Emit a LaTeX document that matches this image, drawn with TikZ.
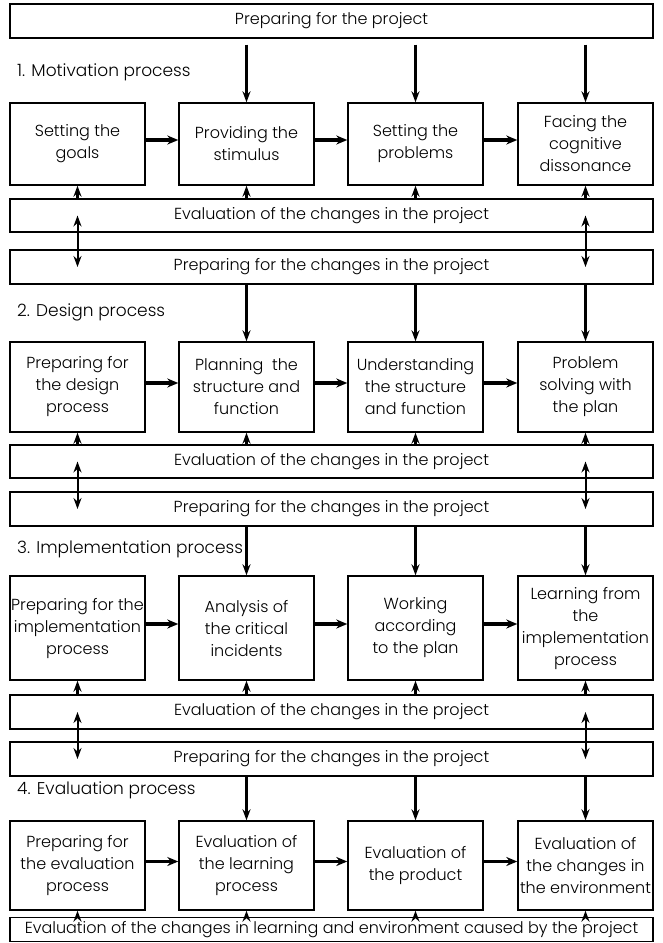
\documentclass[tikz,border=0pt]{standalone}
\usepackage{fontspec}
\setmainfont{Poppins Light}
\usetikzlibrary{arrows.meta}

\begin{document}
\begin{tikzpicture}
    [
        x = 1pt, y = -1pt,
        every node/.append style = {font = \fontsize{16}{22}\selectfont, inner sep = 0},
        bar/.style = {draw, line width = 1.4pt, minimum width = 643pt, minimum height = 34pt},
        stage/.style = {draw, line width = 1.4pt, minimum width = 135pt, align = center},
        heading/.style = {anchor = west, font = \fontsize{17}{18}\selectfont},
        flow/.style = {-{Stealth[length = 11pt, width = 9pt]}, line width = 3.2pt},
        feed/.style = {-{Stealth[length = 11pt, width = 8pt]}, line width = 2.2pt},
        twoway/.style = {{Stealth[length = 11pt, width = 8pt]}-{Stealth[length = 11pt, width = 8pt]}, line width = 2pt}]

    \useasboundingbox (0,0) rectangle (663,943);

    \node [bar] (start) at (331.5,21) {Preparing for the project};

    % 1. Motivation
    \node [heading] (t1) at (17,72) {1. Motivation process};
    \node [stage, minimum height = 82pt] (m1) at (77.5,144) {Setting the\\goals};
    \node [stage, minimum height = 82pt] (m2) at (246.5,144) {Providing the\\stimulus};
    \node [stage, minimum height = 82pt] (m3) at (415.5,144) {Setting the\\problems};
    \node [stage, minimum height = 82pt] (m4) at (585.5,144) {Facing the\\cognitive\\dissonance};
    \node [bar, minimum height = 33pt] (e1) at (331.5,215.5) {Evaluation of the changes in the project};
    \node [bar] (p1) at (331.5,267) {Preparing for the changes in the project};

    % 2. Design
    \node [heading] (t2) at (17,312) {2. Design process};
    \node [stage, minimum height = 90pt] (d1) at (77.5,387) {Preparing for\\the design\\process};
    \node [stage, minimum height = 90pt] (d2) at (246.5,387) {Planning\ \ the\\structure and\\function};
    \node [stage, minimum height = 90pt] (d3) at (415.5,387) {Understanding\\the structure\\and function};
    \node [stage, minimum height = 90pt] (d4) at (585.5,387) {Problem\\solving with\\the plan};
    \node [bar, minimum height = 33pt] (e2) at (331.5,461.5) {Evaluation of the changes in the project};
    \node [bar] (p2) at (331.5,509) {Preparing for the changes in the project};

    % 3. Implementation
    \node [heading] (t3) at (17,549) {3. Implementation process};
    \node [stage, minimum height = 104pt] (i1) at (77.5,628) {Preparing for the\\implementation\\process};
    \node [stage, minimum height = 104pt] (i2) at (246.5,628) {Analysis of\\the critical\\incidents};
    \node [stage, minimum height = 104pt] (i3) at (415.5,628) {Working\\according\\to the plan};
    \node [stage, minimum height = 104pt] (i4) at (585.5,628) {Learning from\\the\\implementation\\process};
    \node [bar] (e3) at (331.5,712) {Evaluation of the changes in the project};
    \node [bar] (p3) at (331.5,759) {Preparing for the changes in the project};

    % 4. Evaluation
    \node [heading] (t4) at (17,790) {4. Evaluation process};
    \node [stage, minimum height = 89pt] (v1) at (77.5,865.5) {Preparing for\\the evaluation\\process};
    \node [stage, minimum height = 89pt] (v2) at (246.5,865.5) {Evaluation of\\the learning\\process};
    \node [stage, minimum height = 89pt] (v3) at (415.5,865.5) {Evaluation of\\the product};
    \node [stage, minimum height = 89pt] (v4) at (585.5,865.5) {Evaluation of\\the changes in\\the environment};
    \node [bar, minimum height = 24pt] (final) at (331.5,929.5) {Evaluation of the changes in learning and environment caused by the project};

    % connectors
    \foreach \row in {m, d, i, v}
        \foreach \a/\b in {1/2, 2/3, 3/4}
            \draw [flow] ([yshift = 4pt]\row\a.east) -- ([yshift = 4pt]\row\b.west);
    \foreach \k in {2, 3, 4}
        \draw [feed, shorten <= 6pt] (start.south -| m\k.north) -- (m\k.north);
    \foreach \from/\row in {p1/d, p2/i, p3/v}
        \foreach \k in {2, 3, 4}
            \draw [feed] (\from.south -| \row\k.north) -- (\row\k.north);
    \foreach \from/\row in {e1/m, e2/d, e3/i, final/v}
        \foreach \k in {1, 2, 3, 4}
            \draw [feed] (\from.north -| \row\k.south) -- (\row\k.south);
    \foreach \ev/\pr in {e1/p1, e2/p2, e3/p3}
        \foreach \k in {1, 4}
            \draw [twoway] (\ev.center -| m\k.south) -- (\pr.center -| m\k.south);

\end{tikzpicture}
\end{document}
